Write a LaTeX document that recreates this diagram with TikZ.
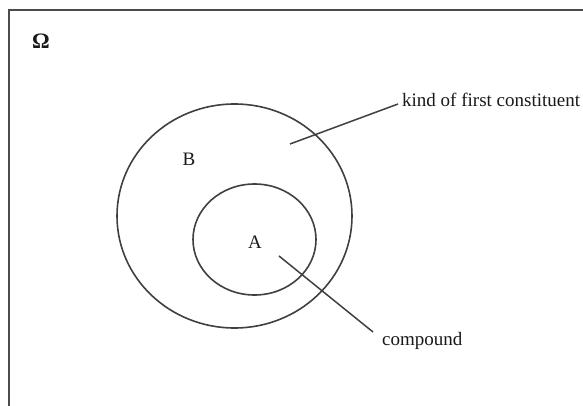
\documentclass[tikz,border=0pt]{standalone}
\usepackage{fontspec}
\setmainfont{Liberation Serif}
\begin{document}
\begin{tikzpicture}[x=1pt,y=-1pt,
  lbl/.style={inner sep=0pt, text=black!90, font=\fontsize{19}{22}\selectfont},
  ring/.style={draw=black!75, line width=1.6pt},
  pointer/.style={draw=black!75, line width=1.5pt}]
\useasboundingbox (0,0) rectangle (583,406);
\clip (0,0) rectangle (583,406);
\fill[white] (0,0) rectangle (583,406);
% frame
\draw[black!70, line width=2.4pt] (9,420) -- (9,10) -- (600,10);
% sets
\draw[ring] (234.5,216) ellipse [x radius=117.5, y radius=112];
\draw[ring] (254.5,239.5) ellipse [x radius=61.5, y radius=55.5];
% labels
\node[lbl, font=\fontsize{22}{24}\selectfont\bfseries] (omega) at (41,41) {Ω};
\node[lbl] (B) at (189,159) {B};
\node[lbl] (A) at (255,242) {A};
\node[lbl, anchor=west] (kind) at (402,100) {kind of first constituent};
\node[lbl, anchor=west] (comp) at (382,341) {compound};
% pointers
\coordinate (pB) at (290,144);
\coordinate (pA) at (279,256);
\draw[pointer] (pB) -- ([xshift=-4pt,yshift=-4pt]kind.west);
\draw[pointer] (pA) -- ([xshift=-9pt,yshift=9pt]comp.west);
\end{tikzpicture}
\end{document}
